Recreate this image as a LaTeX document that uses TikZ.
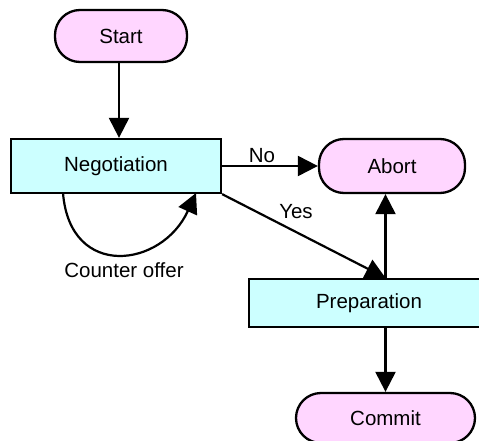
\documentclass[tikz,border=0pt]{standalone}
\usepackage{fontspec}
\setmainfont{Liberation Sans}
\usetikzlibrary{arrows.meta}
\definecolor{termfill}{RGB}{255,214,255}
\definecolor{procfill}{RGB}{204,255,255}
\begin{document}
\begin{tikzpicture}[x=1pt,y=1pt,
  every node/.style={font=\fontsize{20.5}{24}\selectfont},
  terminal/.style={draw=black, line width=2.3pt, fill=termfill, rectangle,
    rounded corners=25pt, inner sep=0pt},
  process/.style={draw=black, line width=2.3pt, fill=procfill, rectangle,
    inner sep=0pt},
  flow/.style={line width=2.2pt, -{Triangle[width=20pt,length=20pt]}},
  lbl/.style={inner sep=0pt}]
\useasboundingbox (0,0) rectangle (479,440);

% states
\node[terminal, minimum width=132pt, minimum height=52pt] (start) at (121,404) {Start};
\node[process,  minimum width=210pt, minimum height=54pt] (neg)   at (116,274) {Negotiation};
\node[terminal, minimum width=146pt, minimum height=54pt] (abort) at (392,274) {Abort};
\node[process,  minimum width=240pt, minimum height=48pt] (prep)  at (369,137) {Preparation};
\node[terminal, minimum width=179pt, minimum height=50pt] (commit) at (385.5,22) {Commit};

% transitions
\coordinate (startfoot) at (119,378);
\draw[flow] (startfoot) -- (startfoot |- neg.north);
\draw[flow] (neg.east) -- (abort.west);
\draw[flow] (neg.south east) -- (prep.north -| commit.north);
\draw[flow] (prep.north -| commit.north) -- (abort.south -| commit.north);
\draw[flow] (prep.south -| commit.north) -- (commit.north);

% counter offer loop under the negotiation box
\coordinate (loopout) at (63,247);
\coordinate (loopin) at (196,247);
\draw[flow] (loopout) .. controls (70,160) and (162,172) .. (loopin);

% labels
\node[lbl] (nolbl) at (262,284) {No};
\node[lbl] (yeslbl) at (296,228) {Yes};
\node[lbl] (colbl) at (124,170) {Counter offer};
\end{tikzpicture}
\end{document}
